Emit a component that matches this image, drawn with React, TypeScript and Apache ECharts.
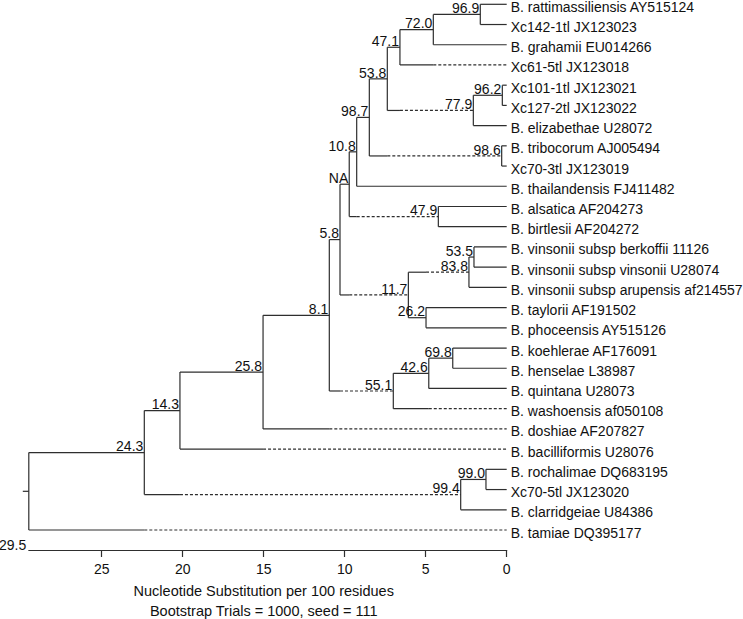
import { useEffect, useRef } from "react";
import * as echarts from "echarts";

const tipLabels = [
  "B. rattimassiliensis AY515124",
  "Xc142-1tl JX123023",
  "B. grahamii EU014266",
  "Xc61-5tl JX123018",
  "Xc101-1tl JX123021",
  "Xc127-2tl JX123022",
  "B. elizabethae U28072",
  "B. tribocorum AJ005494",
  "Xc70-3tl JX123019",
  "B. thailandensis FJ411482",
  "B. alsatica AF204273",
  "B. birtlesii AF204272",
  "B. vinsonii subsp berkoffii 11126",
  "B. vinsonii subsp vinsonii U28074",
  "B. vinsonii subsp arupensis af214557",
  "B. taylorii AF191502",
  "B. phoceensis AY515126",
  "B. koehlerae AF176091",
  "B. henselae L38987",
  "B. quintana U28073",
  "B. washoensis af050108",
  "B. doshiae AF207827",
  "B. bacilliformis U28076",
  "B. rochalimae DQ683195",
  "Xc70-5tl JX123020",
  "B. clarridgeiae U84386",
  "B. tamiae DQ395177",
];

// internal nodes: bootstrap label, height (distance from tips), children
const nodeLabels = [
  "96.9", "72.0", "47.1", "96.2", "77.9", "53.8", "98.6", "98.7", "10.8", "47.9",
  "NA", "53.5", "83.8", "26.2", "11.7", "5.8", "69.8", "42.6", "55.1", "8.1",
  "25.8", "14.3", "99.0", "99.4", "24.3", "",
];
const nodeHeights = [
  1.63, 4.53, 6.59, 0.27, 2.06, 7.37, 0.31, 8.48, 9.26, 4.22,
  9.72, 2.02, 2.33, 4.98, 6.07, 10.29, 3.33, 4.81, 7.0, 10.95,
  15.04, 20.17, 1.28, 2.84, 22.37, 29.5,
];
const nodeChildren = [
  ["t0", "t1"], ["n0", "t2"], ["n1", "t3"], ["t4", "t5"], ["n3", "t6"],
  ["n2", "n4"], ["t7", "t8"], ["n5", "n6"], ["n7", "t9"], ["t10", "t11"],
  ["n8", "n9"], ["t12", "t13"], ["n11", "t14"], ["t15", "t16"], ["n12", "n13"],
  ["n10", "n14"], ["t17", "t18"], ["n16", "t19"], ["n17", "t20"], ["n15", "n18"],
  ["n19", "t21"], ["n20", "t22"], ["t23", "t24"], ["n22", "t25"], ["n21", "n23"],
  ["n24", "t26"],
];
// branches drawn dashed from this height onwards
const dashedBranches = ["t3", "n4", "n6", "n9", "n14", "n12", "n18", "t20", "t21", "t22", "n23", "t26"];
const dashedFrom = [4.53, 6.59, 7.37, 9.26, 9.72, 4.98, 10.29, 4.81, 10.95, 15.04, 20.17, 22.37];

const xTicks = [0, 5, 10, 15, 20, 25];
const rootLabel = "29.5";
const axisTitle = "Nucleotide Substitution per 100 residues\nBootstrap Trials = 1000, seed = 111";

const FONT = "'Liberation Sans', Arial, Helvetica, sans-serif";
const LINE = "#2e2e2e";
const TEXT = "#111111";

function buildTree() {
  const nodeY: number[] = new Array(nodeHeights.length).fill(NaN);
  const yOf = (ref: string): number => {
    const idx = parseInt(ref.slice(1), 10);
    if (ref[0] === "t") return idx;
    if (isNaN(nodeY[idx])) {
      const ch = nodeChildren[idx];
      nodeY[idx] = (yOf(ch[0]) + yOf(ch[1])) / 2;
    }
    return nodeY[idx];
  };
  const hOf = (ref: string): number => (ref[0] === "t" ? 0 : nodeHeights[parseInt(ref.slice(1), 10)]);
  nodeHeights.forEach((_, i) => yOf("n" + i));

  const edges: number[][] = [];
  nodeChildren.forEach((ch, i) => {
    const h = nodeHeights[i];
    edges.push([h, yOf(ch[0]), h, yOf(ch[1]), 0]);
    ch.forEach((c) => {
      const y = yOf(c);
      const hc = hOf(c);
      const di = dashedBranches.indexOf(c);
      if (di >= 0) {
        edges.push([h, y, dashedFrom[di], y, 0]);
        edges.push([dashedFrom[di], y, hc, y, 1]);
      } else {
        edges.push([h, y, hc, y, 0]);
      }
    });
  });
  const root = nodeHeights.length - 1;
  edges.push([nodeHeights[root], nodeY[root], nodeHeights[root], nodeY[root], 2]);

  const nodeLabelData = nodeLabels
    .map((l, i) => ({ l, v: [nodeHeights[i], nodeY[i]] }))
    .filter((d) => d.l !== "");
  const tipData = tipLabels.map((l, i) => ({ l, v: [0, i] }));
  return { edges, nodeLabelData, tipData };
}

export default function App() {
  const ref = useRef<HTMLDivElement>(null);
  useEffect(() => {
    if (!ref.current) return;
    const chart = echarts.init(ref.current, undefined, { renderer: "svg" });
    const { edges, nodeLabelData, tipData } = buildTree();
    const nTips = tipLabels.length - 1;
    chart.setOption({
      animation: false,
      backgroundColor: "#ffffff",
      textStyle: { fontFamily: FONT },
      grid: { left: 28.8, right: 236.3, top: 4.3, bottom: 89, containLabel: false, outerBoundsMode: "none" },
      xAxis: {
        type: "value",
        position: "bottom",
        min: 0,
        max: nodeHeights[nodeHeights.length - 1],
        inverse: true,
        offset: 20,
        axisLine: { show: true, onZero: false, lineStyle: { color: LINE, width: 1.2 } },
        axisTick: { show: true, length: 7, customValues: xTicks, lineStyle: { color: LINE, width: 1.2 } },
        axisLabel: { customValues: xTicks, fontSize: 14, color: TEXT, margin: 12, fontFamily: FONT },
        splitLine: { show: false },
        name: axisTitle,
        nameLocation: "middle",
        nameGap: 29,
        nameTextStyle: { fontSize: 14.5, lineHeight: 20, color: TEXT, fontFamily: FONT, padding: [0, 8, 0, 0] },
      },
      yAxis: { type: "value", min: 0, max: nTips, inverse: true, show: false },
      series: [
        {
          type: "custom",
          coordinateSystem: "cartesian2d",
          data: edges,
          encode: { x: [0, 2], y: [1, 3] },
          silent: true,
          renderItem: (_p: any, api: any) => {
            const a = api.coord([api.value(0), api.value(1)]);
            const b = api.coord([api.value(2), api.value(3)]);
            const kind = api.value(4);
            let x1 = a[0];
            if (kind === 2) x1 = a[0] - 6;
            return {
              type: "line",
              shape: { x1, y1: a[1], x2: b[0], y2: b[1] },
              style: { stroke: LINE, lineWidth: 1.2, lineDash: kind === 1 ? [3, 2] : null, fill: null },
            };
          },
        },
        {
          type: "custom",
          coordinateSystem: "cartesian2d",
          data: nodeLabelData.map((d) => d.v),
          silent: true,
          renderItem: (p: any, api: any) => {
            const a = api.coord([api.value(0), api.value(1)]);
            return {
              type: "text",
              x: a[0] - 1,
              y: a[1] + 0.8,
              style: {
                text: nodeLabelData[p.dataIndex].l,
                fill: TEXT,
                fontSize: 14,
                fontFamily: FONT,
                align: "right",
                verticalAlign: "bottom",
              },
            };
          },
        },
        {
          type: "custom",
          coordinateSystem: "cartesian2d",
          data: tipData.map((d) => d.v),
          silent: true,
          renderItem: (p: any, api: any) => {
            const a = api.coord([api.value(0), api.value(1)]);
            return {
              type: "text",
              x: a[0] + 4,
              y: a[1] + 2.5,
              style: {
                text: tipData[p.dataIndex].l,
                fill: TEXT,
                fontSize: 14,
                fontFamily: FONT,
                align: "left",
                verticalAlign: "middle",
              },
            };
          },
        },
      ],
    });
    const px = chart.convertToPixel({ xAxisIndex: 0 }, nodeHeights[nodeHeights.length - 1]);
    const py = chart.convertToPixel({ yAxisIndex: 0 }, nTips) + 20;
    chart.setOption({
      graphic: [
        {
          type: "text",
          x: px - 2.5,
          y: py + 1.5,
          style: { text: rootLabel, fill: TEXT, fontSize: 14, fontFamily: FONT, align: "right", verticalAlign: "bottom" },
        },
      ],
    });
    return () => chart.dispose();
  }, []);
  return (
    <div
      ref={ref}
      style={{ position: "fixed", left: 0, top: 0, width: 743, height: 619, background: "#fff" }}
    />
  );
}
